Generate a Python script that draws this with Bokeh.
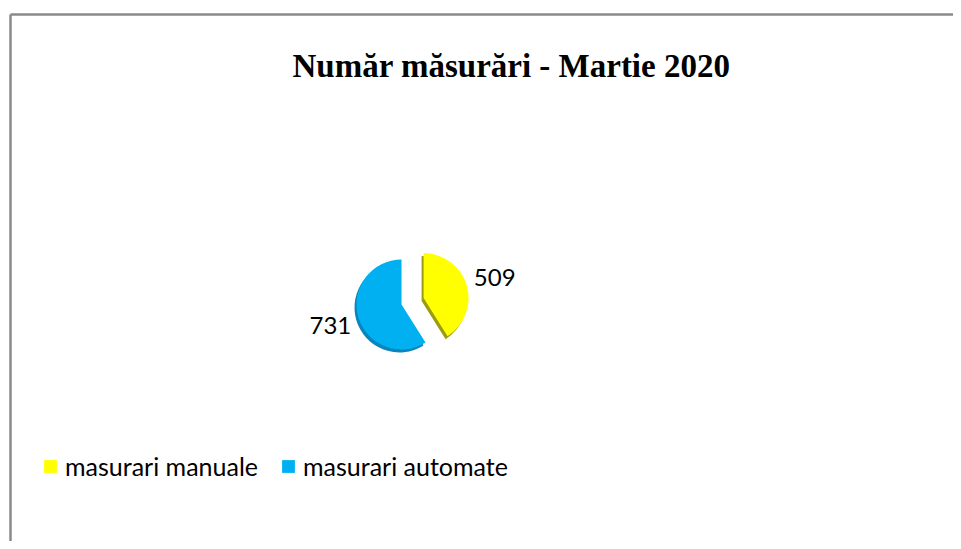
import math
from bokeh.plotting import figure
from bokeh.models import ColumnDataSource, Range1d, Label, Legend, LegendItem
from bokeh.embed import file_html
from bokeh.resources import INLINE

# ---- data ----
categories = ["masurari manuale", "masurari automate"]
values = [509, 731]
colors = ["#FFFF00", "#00B0F0"]
shade_colors = ["#9C9C10", "#0A86BC"]
title_text = "Număr măsurări - Martie 2020"

# ---- layout (page pixel coordinates, y measured from the page top) ----
W, H = 953, 541
PAGE_H = 549


def py(y_page):
    return PAGE_H - y_page


cx, cy = 401, py(304)
radius = 45
explode = [23, 0]
label_dist = 74

total = float(sum(values))
starts, ends, xs, ys, lx, ly = [], [], [], [], [], []
ang = math.pi / 2
for v, ex in zip(values, explode):
    sweep = 2 * math.pi * v / total
    s, e = ang, ang - sweep
    mid = (s + e) / 2
    ox, oy = cx + ex * math.cos(mid), cy + ex * math.sin(mid)
    starts.append(s)
    ends.append(e)
    xs.append(ox)
    ys.append(oy)
    lx.append(ox + label_dist * math.cos(mid))
    ly.append(oy + label_dist * math.sin(mid))
    ang = e

src = ColumnDataSource(dict(x=xs, y=ys, start=starts, end=ends, color=colors,
                            shade=shade_colors, cat=categories,
                            xs_sh=[x - 2 for x in xs], ys_sh=[y - 3 for y in ys],
                            lx=lx, ly=ly, txt=[str(v) for v in values]))

p = figure(width=W, height=H, output_backend="svg", toolbar_location=None,
           x_range=Range1d(0, W), y_range=Range1d(PAGE_H - H, PAGE_H),
           min_border=0, outline_line_color=None)
p.axis.visible = False
p.grid.visible = False
p.background_fill_color = "white"

# frame lines of the original chart area
p.line([10, 10], [py(549), py(14)], line_color="#8a8a8a", line_width=2.5)
p.line([10, W], [py(14), py(14)], line_color="#8a8a8a", line_width=2.5)

# depth (3D side) of the slices
p.wedge(x="xs_sh", y="ys_sh", radius=radius, start_angle="start", end_angle="end",
        direction="clock", fill_color="shade", line_color=None, source=src)
wedges = p.wedge(x="x", y="y", radius=radius, start_angle="start", end_angle="end",
                 direction="clock", fill_color="color", line_color=None, source=src)

p.text(x="lx", y="ly", text="txt", source=src, text_align="center",
       text_baseline="middle", text_font_size="24px", text_color="#000000",
       text_font={"value": "Lato"})

title = Label(x=511, y=py(65), text=title_text, text_align="center",
              text_baseline="alphabetic", text_font="Liberation Serif",
              text_font_style="bold", text_font_size="33px", text_color="#000000")
p.add_layout(title)

legend = Legend(items=[LegendItem(label=categories[i], renderers=[wedges], index=i)
                       for i in range(len(categories))],
                orientation="horizontal", location=(42, 60),
                glyph_width=16, glyph_height=16, label_standoff=7, spacing=22,
                padding=0, margin=0, border_line_color=None,
                background_fill_alpha=0, label_text_font="Lato",
                label_text_font_size="25px", label_text_color="#000000")
p.add_layout(legend)

open("out.html", "w").write(file_html(p, INLINE))
